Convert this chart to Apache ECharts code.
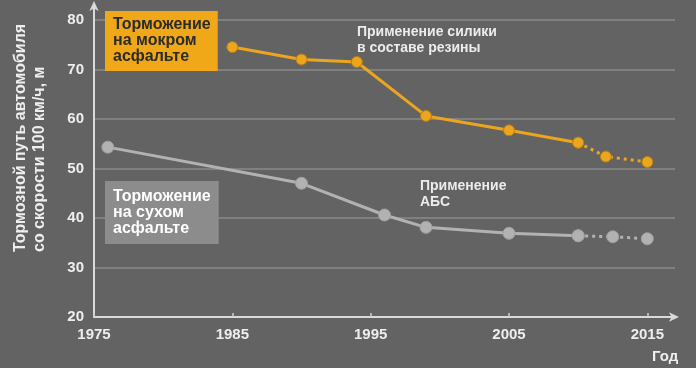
<!DOCTYPE html>
<html>
<head>
<meta charset="utf-8">
<script src="https://cdn.jsdelivr.net/npm/echarts@6/dist/echarts.min.js"></script>
<style>
html,body{margin:0;padding:0;background:#636363;}
#c{width:696px;height:368px;}
</style>
</head>
<body>
<div id="c"></div>
<script>
// ---- data ----
var wetYears  = [1985, 1990, 1994, 1999, 2005, 2010, 2012, 2015];
var wetValues = [74.5, 72.0, 71.5, 60.6, 57.7, 55.2, 52.4, 51.3];
var wetDottedFrom = 5; // index from which the line is dotted (forecast)

var dryYears  = [1976, 1990, 1996, 1999, 2005, 2010, 2012.5, 2015];
var dryValues = [54.3, 47.0, 40.6, 38.1, 36.9, 36.4, 36.2, 35.8];
var dryDottedFrom = 5;

var xTicks = [1975, 1985, 1995, 2005, 2015];
var yTicks = [20, 30, 40, 50, 60, 70, 80];

var yAxisTitle = 'Тормозной путь автомобиля\nсо скорости 100 км/ч, м';
var xAxisTitle = 'Год';
var wetLabel = 'Торможение\nна мокром\nасфальте';
var dryLabel = 'Торможение\nна сухом\nасфальте';
var noteSilica = 'Применение силики\nв составе резины';
var noteAbs = 'Применение\nАБС';

function pairs(xs, ys, from, to) {
  var out = [];
  for (var i = from; i < to; i++) out.push([xs[i], ys[i]]);
  return out;
}

var ORANGE = '#eba51f';
var ORANGE_EDGE = '#b97d10';
var GREY = '#b2b2b2';
var GREY_EDGE = '#a0a0a0';
var FONT = 'Liberation Sans, Arial, sans-serif';

var chart = echarts.init(document.getElementById('c'), null, {renderer: 'canvas'});

var splitColors = [];
for (var i = 0; i < yTicks.length; i++) splitColors.push('#8a8a8a');
splitColors.push('rgba(0,0,0,0)');

var option = {
  backgroundColor: '#636363',
  animation: false,
  grid: {left: 94, right: 21, top: 5, bottom: 51},
  xAxis: {
    type: 'value', min: 1975, max: 2017, interval: 10,
    axisLine: {show: true, lineStyle: {color: '#dadada', width: 2}, symbol: ['none', 'arrow'], symbolSize: [7, 10], symbolOffset: [0, 4]},
    axisTick: {show: true, inside: true, length: 4, customValues: xTicks, lineStyle: {color: '#d0d0d0', width: 1.5}},
    axisLabel: {
      customValues: xTicks,
      formatter: function (v) { return ((v - 1975) % 10 === 0) ? String(v) : ''; },
      color: '#eeeeee', fontSize: 15, fontWeight: 'bold', fontFamily: FONT, margin: 10
    },
    splitLine: {show: false}
  },
  yAxis: {
    type: 'value', min: 20, max: 83, interval: 10,
    axisLine: {show: true, lineStyle: {color: '#dadada', width: 2}, symbol: ['none', 'arrow'], symbolSize: [7, 10], symbolOffset: [0, 4]},
    axisTick: {show: false},
    axisLabel: {
      customValues: yTicks,
      formatter: function (v) { return (v % 10 === 0) ? String(v) : ''; },
      color: '#eeeeee', fontSize: 15, fontWeight: 'bold', fontFamily: FONT, margin: 10
    },
    splitLine: {show: true, lineStyle: {color: splitColors, width: 1.5}}
  },
  series: [
    {
      type: 'line', data: pairs(wetYears, wetValues, 0, wetDottedFrom + 1),
      lineStyle: {color: ORANGE, width: 3}, symbol: 'circle', symbolSize: 11,
      itemStyle: {color: ORANGE, borderColor: ORANGE_EDGE, borderWidth: 1}, z: 3
    },
    {
      type: 'line', data: pairs(wetYears, wetValues, wetDottedFrom, wetYears.length),
      lineStyle: {color: ORANGE, width: 3, type: [3, 4]}, symbol: 'circle', symbolSize: 11,
      itemStyle: {color: ORANGE, borderColor: ORANGE_EDGE, borderWidth: 1}, z: 3
    },
    {
      type: 'line', data: pairs(dryYears, dryValues, 0, dryDottedFrom + 1),
      lineStyle: {color: GREY, width: 3}, symbol: 'circle', symbolSize: 12,
      itemStyle: {color: GREY, borderColor: GREY_EDGE, borderWidth: 1}, z: 2
    },
    {
      type: 'line', data: pairs(dryYears, dryValues, dryDottedFrom, dryYears.length),
      lineStyle: {color: GREY, width: 3, type: [3, 4]}, symbol: 'circle', symbolSize: 12,
      itemStyle: {color: GREY, borderColor: GREY_EDGE, borderWidth: 1}, z: 2
    }
  ],
  graphic: [
    {
      type: 'text', left: 105, top: 11, z: 10,
      style: {
        text: wetLabel, fill: '#2b2b2b', font: 'bold 16px ' + FONT, lineHeight: 16,
        backgroundColor: '#f0a818', padding: [6, 7, 6, 8]
      }
    },
    {
      type: 'text', left: 105, top: 181, z: 10,
      style: {
        text: dryLabel, fill: '#ffffff', font: 'bold 16px ' + FONT, lineHeight: 16,
        backgroundColor: '#8c8c8c', padding: [8, 8, 7, 8]
      }
    },
    {
      type: 'text', left: 357, top: 24, z: 10,
      style: {text: noteSilica, fill: '#ececec', font: 'bold 14px ' + FONT, lineHeight: 16}
    },
    {
      type: 'text', left: 420, top: 178, z: 10,
      style: {text: noteAbs, fill: '#ececec', font: 'bold 14px ' + FONT, lineHeight: 16}
    },
    {
      type: 'text', left: 652, top: 349, z: 10,
      style: {text: xAxisTitle, fill: '#eeeeee', font: 'bold 15px ' + FONT}
    },
    {
      type: 'text', x: 30, y: 252, rotation: Math.PI / 2, z: 10,
      style: {
        text: yAxisTitle, fill: '#eeeeee', font: 'bold 16px ' + FONT, lineHeight: 19,
        align: 'left', verticalAlign: 'middle'
      }
    }
  ]
};
chart.setOption(option);
</script>
</body>
</html>
